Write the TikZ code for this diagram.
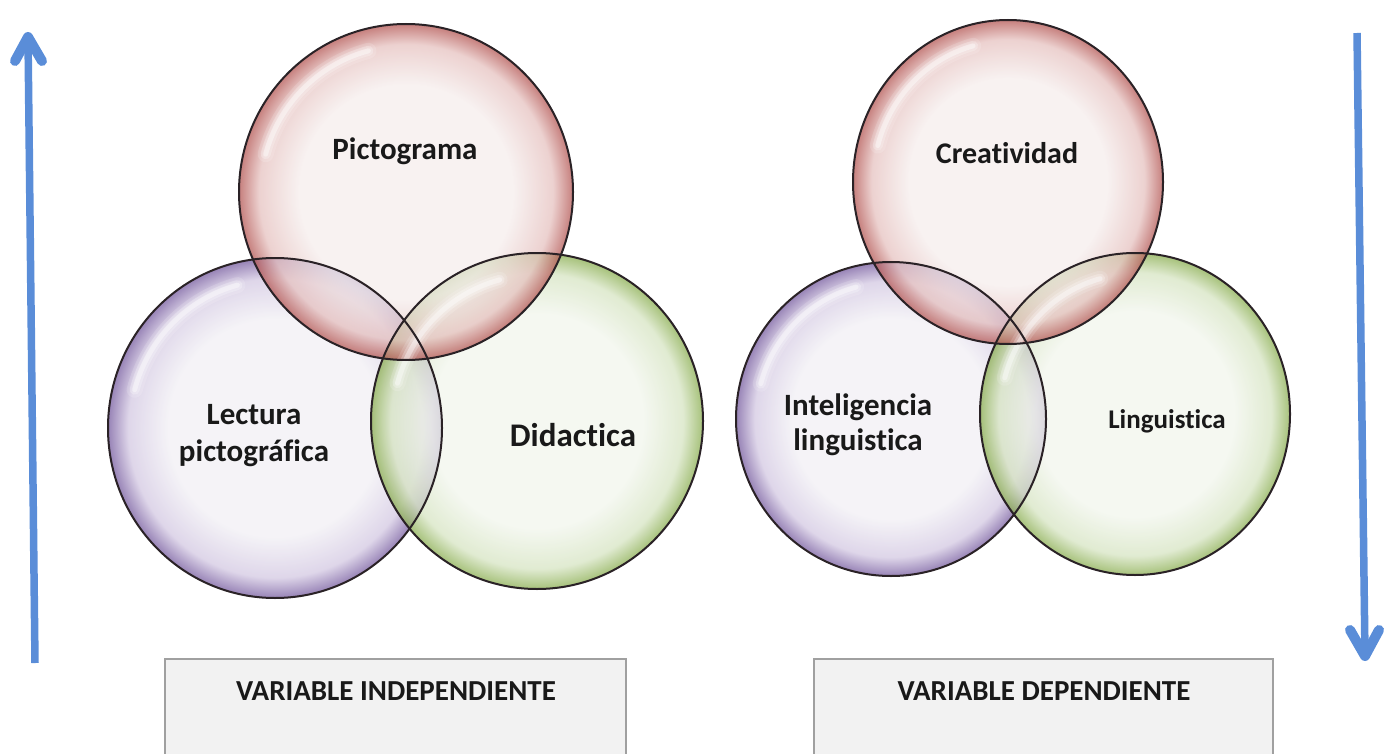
\documentclass[tikz,border=0pt]{standalone}
\usepackage{fontspec}
\setmainfont{Carlito}[Ligatures=NoCommon]
\usetikzlibrary{calc}
\definecolor{pinkC}{HTML}{F5EDEC}
\definecolor{pinkM}{HTML}{E6C2C0}
\definecolor{pinkR}{HTML}{B35552}
\definecolor{purC}{HTML}{F1EFF4}
\definecolor{purM}{HTML}{D3C8E2}
\definecolor{purR}{HTML}{755A9E}
\definecolor{grnC}{HTML}{F1F5EC}
\definecolor{grnM}{HTML}{D6E4C2}
\definecolor{grnR}{HTML}{89AD4F}
\definecolor{arrowblue}{HTML}{5A8DD8}
\definecolor{boxfill}{HTML}{F2F2F2}
\definecolor{boxline}{HTML}{A0A0A0}
\definecolor{rimline}{HTML}{2A2226}
\pgfdeclareradialshading{pinkball}{\pgfpoint{0bp}{0bp}}{color(0bp)=(pinkC); color(16bp)=(pinkC); color(22bp)=(pinkM); color(25bp)=(pinkR); color(50bp)=(pinkR)}
\pgfdeclareradialshading{purball}{\pgfpoint{0bp}{0bp}}{color(0bp)=(purC); color(16bp)=(purC); color(22bp)=(purM); color(25bp)=(purR); color(50bp)=(purR)}
\pgfdeclareradialshading{grnball}{\pgfpoint{0bp}{0bp}}{color(0bp)=(grnC); color(16bp)=(grnC); color(22bp)=(grnM); color(25bp)=(grnR); color(50bp)=(grnR)}
\tikzset{
  ball/.style={shading=#1, fill opacity=0.75},
  rim/.style={draw=rimline, line width=2pt},
  lbl/.style={font=\bfseries, text=black!90, align=center, inner sep=0pt},
  varbox/.style={draw=boxline, fill=boxfill, line width=1.5pt},
  shaft/.style={draw=arrowblue, line width=7.5pt},
  chevron/.style={draw=arrowblue, line width=10pt, line cap=round, line join=round},
}
\newcommand{\glint}[4]{%
  \foreach \w/\o in {16/0.15,10/0.25,5/0.4}{
    \draw[white, line width=\w pt, opacity=\o, line cap=round]
      ($(#1)+(195:{#2*0.87} and {#3*0.87})$) arc[start angle=195, end angle=#4, x radius={#2*0.87}, y radius={#3*0.87}];
  }}
\begin{document}
\begin{tikzpicture}[x=1pt,y=-1pt]
\useasboundingbox (0,0) rectangle (1391,754);
% centres
\coordinate (cP) at (406,192);
\coordinate (cL) at (275,428);
\coordinate (cD) at (537,421);
\coordinate (cC) at (1008,182);
\coordinate (cI) at (891,419);
\coordinate (cG) at (1135,414);
% left group
\shade[ball=purball] (cL) ellipse [x radius=167, y radius=170];
\shade[ball=grnball] (cD) ellipse [x radius=166, y radius=168];
\shade[ball=pinkball] (cP) ellipse [x radius=167, y radius=168];
\glint{cL}{167}{170}{255}
\glint{cD}{166}{168}{255}
\glint{cP}{167}{168}{255}
\draw[rim] (cL) ellipse [x radius=167, y radius=170];
\draw[rim] (cD) ellipse [x radius=166, y radius=168];
\draw[rim] (cP) ellipse [x radius=167, y radius=168];
% right group
\shade[ball=purball] (cI) ellipse [x radius=155, y radius=157];
\shade[ball=grnball] (cG) ellipse [x radius=155, y radius=161];
\shade[ball=pinkball] (cC) ellipse [x radius=155, y radius=162];
\glint{cI}{155}{157}{255}
\glint{cG}{155}{161}{255}
\glint{cC}{155}{162}{255}
\draw[rim] (cI) ellipse [x radius=155, y radius=157];
\draw[rim] (cG) ellipse [x radius=155, y radius=161];
\draw[rim] (cC) ellipse [x radius=155, y radius=162];
% labels
\node[lbl, font=\bfseries\fontsize{31}{35}\selectfont] (pict) at (405,151) {Pictograma};
\node[lbl, font=\bfseries\fontsize{31}{37}\selectfont] (lect) at (254,436) {Lectura\\pictográfica};
\node[lbl, font=\bfseries\fontsize{33}{38}\selectfont] (dida) at (573,435) {Didactica};
\node[lbl, font=\bfseries\fontsize{30}{34}\selectfont] (crea) at (1007,153) {Creatividad};
\node[lbl, font=\bfseries\fontsize{31}{35}\selectfont] (inte) at (858,425) {Inteligencia\\linguistica};
\node[lbl, font=\bfseries\fontsize{27}{31}\selectfont] (ling) at (1167,421) {Linguistica};
% boxes
\draw[varbox] (165,659) rectangle (626,760);
\draw[varbox] (814,659) rectangle (1273,760);
\node[lbl, font=\bfseries\fontsize{29}{33}\selectfont] (vi) at (396,691) {VARIABLE INDEPENDIENTE};
\node[lbl, font=\bfseries\fontsize{29}{33}\selectfont] (vd) at (1044,691) {VARIABLE DEPENDIENTE};
% arrows
\coordinate (aLb) at (35,663);
\coordinate (aLt) at (28,37);
\coordinate (aLw1) at (15,61);
\coordinate (aLw2) at (42,61);
\coordinate (aRt) at (1357,33);
\coordinate (aRb) at (1365,656);
\coordinate (aRw1) at (1350,630);
\coordinate (aRw2) at (1379,630);
\draw[shaft] (aLb) -- (aLt);
\draw[chevron] (aLw1) -- (aLt) -- (aLw2);
\draw[shaft] (aRt) -- (aRb);
\draw[chevron] (aRw1) -- (aRb) -- (aRw2);
\end{tikzpicture}
\end{document}
